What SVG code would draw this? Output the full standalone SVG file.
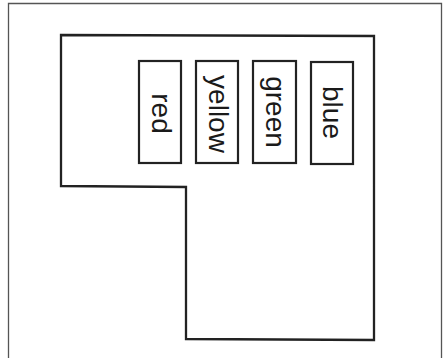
<svg xmlns="http://www.w3.org/2000/svg" width="446" height="358" viewBox="0 0 446 358">
<style>
.frame{fill:none;stroke:#555;stroke-width:1.3}
.shape{fill:#fff;stroke:#222;stroke-width:2.3}
.box{fill:#fff;stroke:#222;stroke-width:2.2}
.lbl{font-family:"Liberation Sans",Arial,sans-serif;font-size:28px;fill:#1a1a1a;text-anchor:middle}
</style>
<rect width="446" height="358" fill="#fff"/>
<path class="frame" d="M8.5,362 V3.5 H441.5 V362"/>
<g id="region">
<path class="shape" d="M61,35 L374,36 L374,340 L186,339 L186,187 L61,186 Z"/>
</g>
<g id="connectors"></g>
<g id="node-red">
<rect class="box" x="139" y="61" width="42" height="102"/>
<text class="lbl" transform="translate(152,113.5) rotate(90)">red</text>
</g>
<g id="node-yellow">
<rect class="box" x="196" y="61" width="42" height="102"/>
<text class="lbl" transform="translate(209,114) rotate(90)">yellow</text>
</g>
<g id="node-green">
<rect class="box" x="253" y="61" width="43" height="102"/>
<text class="lbl" transform="translate(266,112) rotate(90)">green</text>
</g>
<g id="node-blue">
<rect class="box" x="311" y="62" width="42" height="102"/>
<text class="lbl" transform="translate(323,112.5) rotate(90)">blue</text>
</g>
</svg>
